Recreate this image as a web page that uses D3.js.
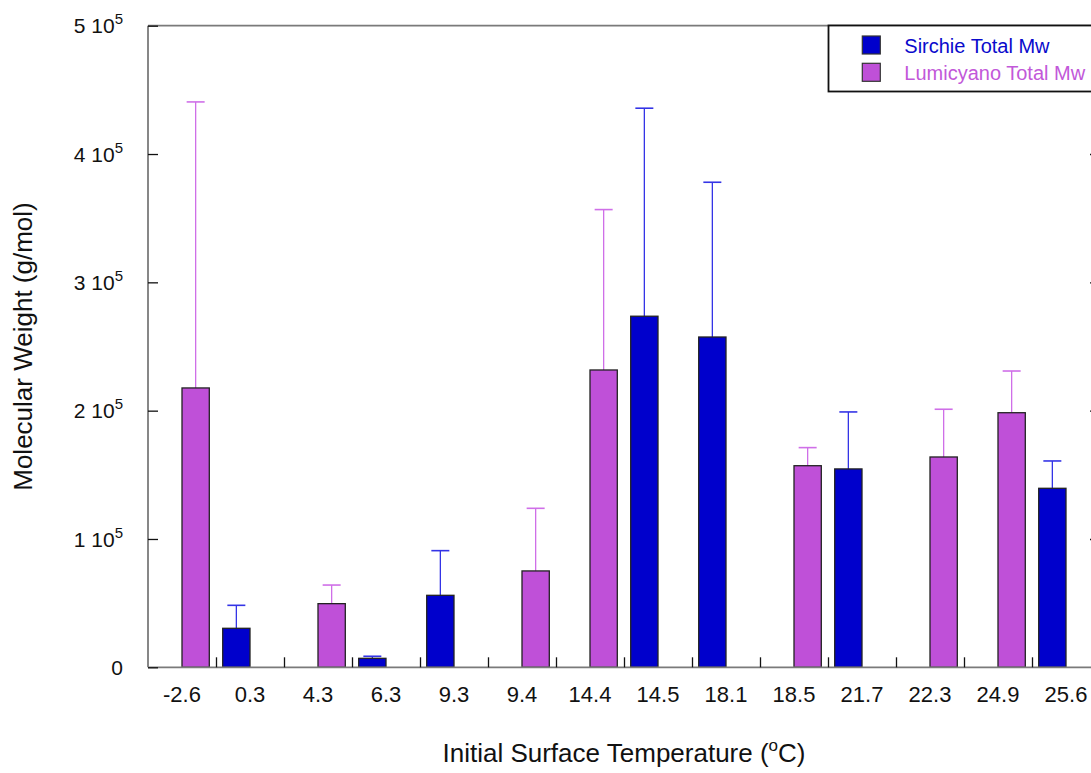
<!DOCTYPE html>
<html>
<head>
<meta charset="utf-8">
<script src="https://cdn.jsdelivr.net/npm/d3@7"></script>
<style>
  html, body { margin: 0; padding: 0; background: #fff; }
  svg { display: block; font-family: "Liberation Sans", Arial, Helvetica, sans-serif; }
</style>
</head>
<body>
<svg id="chart" width="1091" height="773"></svg>
<script>
// Initial surface temperatures (°C), one category each
const temperatures = ["-2.6", "0.3", "4.3", "6.3", "9.3", "9.4", "14.4", "14.5", "18.1", "18.5", "21.7", "22.3", "24.9", "25.6"];

// Series names
const seriesNames = ["Sirchie Total Mw", "Lumicyano Total Mw"];

// Sirchie total Mw (g/mol) and standard deviation; null where not measured
const sirchieMw  = [null, 30400, null, 7000, 56100, null, null, 273600, 257400, null, 154600, null, null, 139500];
const sirchieErr = [null, 17900, null, 1600, 34800, null, null, 162100, 120600, null, 44400, null, null, 21300];

// Lumicyano total Mw (g/mol) and standard deviation; null where not measured
const lumicyanoMw  = [217700, null, 49600, null, null, 75100, 231700, null, null, 157100, null, 163900, 198400, null];
const lumicyanoErr = [222900, null, 14500, null, null, 48800, 125000, null, null, 14100, null, 37200, 32500, null];

// Y axis ticks
const yTicks = [0, 100000, 200000, 300000, 400000, 500000];

const colors = {
  "Sirchie Total Mw":   { fill: "#0000cc", err: "#3434e6", text: "#0a0acc" },
  "Lumicyano Total Mw": { fill: "#bf50d8", err: "#cf6fe8", text: "#c258d9" }
};

const svg = d3.select("#chart");
const plotLeft = 148, plotRight = 1100, plotTop = 25.7, plotBottom = 667.3;

const x0 = d3.scaleBand()
  .domain(temperatures)
  .range([plotLeft, plotRight])
  .paddingInner(0.197)
  .paddingOuter(0.0985);

const x1 = d3.scaleBand()
  .domain(seriesNames)
  .range([0, x0.bandwidth()]);

const y = d3.scaleLinear().domain([0, 500000]).range([plotBottom, plotTop]);

// Rows for drawing: one per measured value
const rows = [];
temperatures.forEach((t, i) => {
  if (sirchieMw[i] != null) rows.push({ t, series: seriesNames[0], v: sirchieMw[i], e: sirchieErr[i] });
  if (lumicyanoMw[i] != null) rows.push({ t, series: seriesNames[1], v: lumicyanoMw[i], e: lumicyanoErr[i] });
});

// Error bars (upper only), drawn behind the bars
const capW = 18;
const eg = svg.append("g");
rows.forEach(d => {
  const cx = x0(d.t) + x1(d.series) + x1.bandwidth() / 2;
  const c = colors[d.series].err;
  eg.append("line")
    .attr("x1", cx).attr("x2", cx)
    .attr("y1", y(d.v)).attr("y2", y(d.v + d.e))
    .attr("stroke", c).attr("stroke-width", 1.3);
  eg.append("line")
    .attr("x1", cx - capW / 2).attr("x2", cx + capW / 2)
    .attr("y1", y(d.v + d.e)).attr("y2", y(d.v + d.e))
    .attr("stroke", c).attr("stroke-width", 1.6);
});

// Bars
svg.append("g").selectAll("rect")
  .data(rows)
  .join("rect")
  .attr("x", d => x0(d.t) + x1(d.series))
  .attr("y", d => y(d.v))
  .attr("width", x1.bandwidth())
  .attr("height", d => y(0) - y(d.v))
  .attr("fill", d => colors[d.series].fill)
  .attr("stroke", "#222")
  .attr("stroke-width", 1.3);

// Frame
const frame = svg.append("g").attr("stroke", "#7a7a7a").attr("stroke-width", 1.8).attr("fill", "none");
frame.append("line").attr("x1", plotLeft).attr("x2", plotLeft).attr("y1", plotTop).attr("y2", plotBottom);
frame.append("line").attr("x1", plotLeft).attr("x2", plotRight).attr("y1", plotTop).attr("y2", plotTop);
frame.append("line").attr("x1", plotLeft).attr("x2", plotRight).attr("y1", plotBottom).attr("y2", plotBottom);
frame.append("line").attr("x1", plotRight).attr("x2", plotRight).attr("y1", plotTop).attr("y2", plotBottom);

// Left axis with inward ticks and "m 10^5" labels
const yAxis = d3.axisLeft(y).tickValues(yTicks).tickSizeInner(-10).tickSizeOuter(0).tickPadding(25);
const gy = svg.append("g").attr("transform", `translate(${plotLeft},0)`).call(yAxis);
gy.select(".domain").remove();
gy.selectAll(".tick line").attr("stroke", "#111").attr("stroke-width", 1.3);
gy.selectAll(".tick text")
  .attr("font-size", 21)
  .attr("fill", "#111")
  .attr("dy", "0.34em")
  .each(function(v) {
    const t = d3.select(this);
    t.text(null);
    if (v === 0) { t.text("0"); return; }
    t.append("tspan").text(`${v / 100000} 10`);
    t.append("tspan").attr("font-size", 15).attr("dy", -9).text("5");
  });

// Right axis: inward ticks only
const gyR = svg.append("g").attr("transform", `translate(${plotRight},0)`)
  .call(d3.axisRight(y).tickValues(yTicks.slice(1, 5)).tickSizeInner(-10).tickSizeOuter(0).tickFormat(""));
gyR.select(".domain").remove();
gyR.selectAll(".tick line").attr("stroke", "#111").attr("stroke-width", 1.3);

// Bottom axis: category labels at band centres
const gx = svg.append("g").attr("transform", `translate(0,${plotBottom})`)
  .call(d3.axisBottom(x0).tickSize(0).tickPadding(19));
gx.select(".domain").remove();
gx.selectAll(".tick text").attr("font-size", 22).attr("fill", "#111");

// Bottom axis: tick marks between categories
const xb = d3.scaleLinear().domain([0, temperatures.length]).range([plotLeft, plotRight]);
const gxb = svg.append("g").attr("transform", `translate(0,${plotBottom})`)
  .call(d3.axisBottom(xb).tickValues(d3.range(1, temperatures.length)).tickSizeInner(-10).tickSizeOuter(0).tickFormat(""));
gxb.select(".domain").remove();
gxb.selectAll(".tick line").attr("stroke", "#111").attr("stroke-width", 1.3);

// Axis titles
const xt = svg.append("text")
  .attr("x", (plotLeft + plotRight) / 2).attr("y", 762)
  .attr("text-anchor", "middle").attr("font-size", 26).attr("fill", "#111");
xt.append("tspan").text("Initial Surface Temperature (");
xt.append("tspan").attr("font-size", 17).attr("dy", -11).text("o");
xt.append("tspan").attr("dy", 11).text("C)");

svg.append("text")
  .attr("transform", `translate(32,${(plotTop + plotBottom) / 2}) rotate(-90)`)
  .attr("text-anchor", "middle").attr("font-size", 26).attr("fill", "#111")
  .text("Molecular Weight (g/mol)");

// Legend
const lg = svg.append("g");
lg.append("rect")
  .attr("x", 828.5).attr("y", 25.5).attr("width", 300).attr("height", 66)
  .attr("fill", "#fff").attr("stroke", "#111").attr("stroke-width", 1.8);
seriesNames.forEach((s, i) => {
  const yy = 36 + i * 27.3;
  lg.append("rect")
    .attr("x", 862.3).attr("y", yy).attr("width", 18).attr("height", 18)
    .attr("fill", colors[s].fill).attr("stroke", "#333").attr("stroke-width", 1.2);
  lg.append("text")
    .attr("x", 904.3).attr("y", yy + 17)
    .attr("font-size", 20).attr("fill", colors[s].text)
    .text(s);
});
</script>
</body>
</html>
